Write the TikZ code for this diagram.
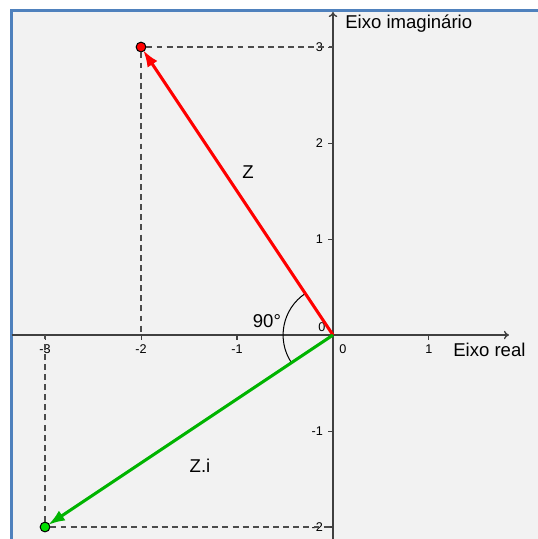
\documentclass[tikz,border=0pt]{standalone}
\usepackage{fontspec}
\setmainfont{Liberation Sans}
\usetikzlibrary{arrows.meta}

\definecolor{framecol}{HTML}{4F81BD}
\definecolor{paper}{HTML}{F2F2F2}
\definecolor{vecgreen}{HTML}{00B400}
\definecolor{dotgreen}{HTML}{00E000}

\begin{document}
\begin{tikzpicture}[
	x=2cm, y=2cm,
	ax/.style  = {-{To[length=3pt,width=5pt]}, line width=0.8pt, draw=black!75},
	tk/.style  = {line width=0.6pt, draw=black!75},
	lb/.style  = {font=\fontsize{7.5}{8}\selectfont, inner sep=0pt},
	tx/.style  = {font=\fontsize{11}{13}\selectfont, inner sep=0pt},
	pt/.style  = {circle, draw=black, line width=0.6pt, minimum size=5.8pt, inner sep=0pt},
	dsh/.style = {dashed, dash pattern=on 3.5pt off 2.5pt, line width=0.8pt, draw=black!70},
	vc/.style  = {-{Latex[length=10pt,width=7pt]}, line width=1.8pt, shorten >=-1pt}
	]
	
	% ===== ===== ===== ===== =====
	
	% Background and frame
	\useasboundingbox (-3.469, -2.125) rectangle (2.135, 3.490);
	\fill[white] (-3.469, -2.125) rectangle (2.135, 3.490);
	\fill[paper] (-3.349, -2.125) rectangle (2.135, 3.380);
	\draw[framecol, line width=1.8pt] (-3.349, -2.2) |- (2.2, 3.380);
	
	% ===== ===== ===== ===== =====
	
	% Nodes
	\coordinate	(O)	at	(0, 0);
	\coordinate	(xl)	at	(-3.349, 0);
	\coordinate	(xr)	at	(1.833, 0);
	\coordinate	(yb)	at	(0, -2.125);
	\coordinate	(yt)	at	(0, 3.365);
	
	\node[tx, anchor=base west]	(xname)	at	(1.25, -0.229)	{Eixo real};
	\node[tx, anchor=base west]	(yname)	at	(0.125, 3.198)	{Eixo imagin\'ario};
	
	% Lines
	\draw[ax]	(xl)	--	(xr);
	\draw[ax]	(yb)	--	(yt);
	
	% ===== ===== ===== ===== =====
	
	% Ticks
	\foreach \t in {-3, -2, -1, 1}
		\draw[tk] (\t, 0) -- (\t, -0.055) node[lb, below=2.5pt] (xt\t) {\t};
	\foreach \t in {-2, -1, 1, 2, 3}
		\draw[tk] (0, \t) -- (-0.055, \t) node[lb, left=2.5pt] (yt\t) {\t};
	
	\node[lb]	(x0)	at	(0.104, -0.146)	{0};
	\node[lb]	(y0)	at	(-0.115, 0.083)	{0};
	
	% ===== ===== ===== ===== =====
	
	% Nodes
	\node[pt, fill=red]	(Z)	at	(-2, 3)	{};
	\node[pt, fill=dotgreen]	(Zi)	at	(-3, -2)	{};
	
	\coordinate	(Zx)	at	(Z |- O);
	\coordinate	(Zy)	at	(O |- Z);
	\coordinate	(Zix)	at	(Zi |- O);
	\coordinate	(Ziy)	at	(O |- Zi);
	
	\node[tx]	(zname)	at	(-0.885, 1.698)	{Z};
	\node[tx]	(ziname)	at	(-1.385, -1.365)	{Z.i};
	\node[tx]	(ang)	at	(-0.688, 0.146)	{90°};
	
	% Lines
	\draw[dsh]	(Z.east)	--	(Zy);
	\draw[dsh]	(Z.south)	--	(Zx);
	\draw[dsh]	(Zi.east)	--	(Ziy);
	\draw[dsh]	(Zi.north)	--	(Zix);
	
	\draw[line width=0.6pt]	(O) ++(123.69:0.52) arc[start angle=123.69, end angle=213.69, radius=0.52];
	
	\draw[vc, red]	(O)	--	(Z);
	\draw[vc, vecgreen]	(O)	--	(Zi);
	
\end{tikzpicture}
\end{document}
